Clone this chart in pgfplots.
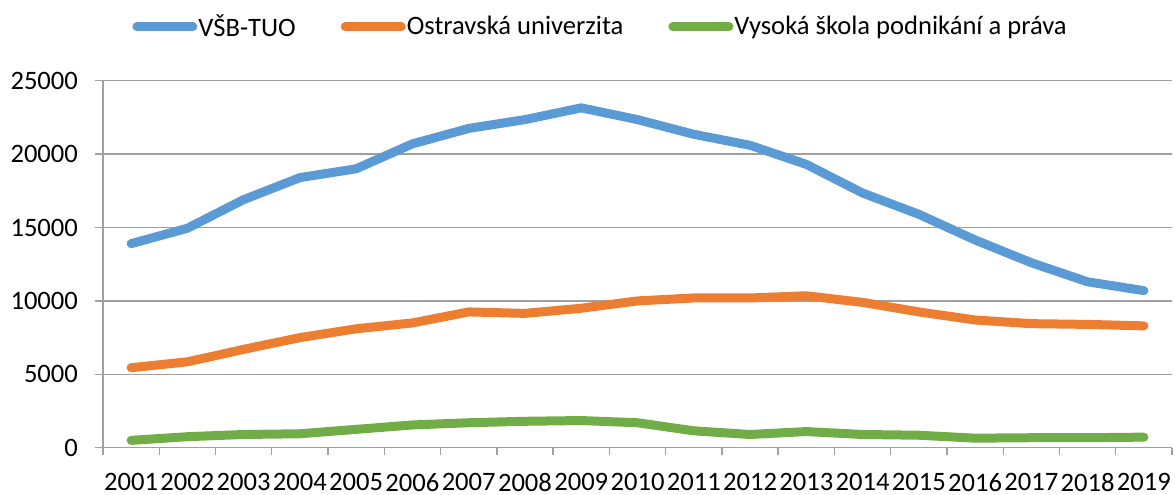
\documentclass[border=0pt]{standalone}
\usepackage{fontspec}
\setmainfont{Carlito}
\usepackage{pgfplots}
\pgfplotsset{compat=1.18}
\definecolor{cB}{HTML}{5B9BD5}
\definecolor{cO}{HTML}{ED7D31}
\definecolor{cG}{HTML}{70AD47}
\definecolor{gridc}{HTML}{A0A0A0}
\begin{document}
\begin{tikzpicture}
\begin{axis}[
  scale only axis, width=534.5pt, height=183.5pt,
  xmin=0.5, xmax=19.5, ymin=0, ymax=25000,
  ytick={0,5000,10000,15000,20000,25000},
  scaled y ticks=false,
  xtick={1,...,19},
  xticklabels={2001,2002,2003,2004,2005,2006,2007,2008,2009,2010,2011,2012,2013,2014,2015,2016,2017,2018,2019},
  minor xtick={0.5,1.5,...,19.5},
  major x tick style={draw=none},
  tick align=outside,
  major tick length=4pt, minor tick length=3.7pt,
  tick style={gridc, line width=0.7pt},
  axis x line*=bottom, axis y line*=left,
  axis line style={draw=gridc, line width=0.7pt, -},
  ymajorgrids, grid style={gridc, line width=0.7pt},
  font=\fontsize{13.3}{16}\selectfont,
  /pgf/number format/assume math mode=true,
  /pgf/number format/1000 sep={},
  yticklabel style={xshift=-5pt},
  xticklabel style={yshift=-5.3pt},
  legend style={at={(0.465,1)}, yshift=27pt, anchor=center, draw=none, fill=none,
    legend columns=3, font=\fontsize{13.3}{16}\selectfont,
    nodes={inner xsep=0.5pt},
    /tikz/every odd column/.append style={column sep=0pt},
    /tikz/every even column/.append style={column sep=22pt},
    inner sep=0pt},
  legend cell align=left,
  legend image code/.code={\draw[#1, line width=4.5pt, line cap=round] (2.25pt,0pt) -- (25.75pt,0pt); \path (0pt,0pt) -- (28pt,0pt);},
  every axis plot/.append style={line width=4.5pt, line cap=round, line join=round},
]
\addplot[cB] coordinates {(1,13900)(2,14950)(3,16900)(4,18400)(5,19000)(6,20700)(7,21750)(8,22350)(9,23150)(10,22350)(11,21350)(12,20600)(13,19300)(14,17350)(15,15900)(16,14150)(17,12600)(18,11300)(19,10700)};
\addlegendentry{VŠB-TUO}
\addplot[cO] coordinates {(1,5450)(2,5850)(3,6700)(4,7500)(5,8100)(6,8500)(7,9250)(8,9150)(9,9500)(10,10000)(11,10200)(12,10200)(13,10350)(14,9900)(15,9250)(16,8700)(17,8450)(18,8400)(19,8300)};
\addlegendentry{Ostravská univerzita}
\addplot[cG] coordinates {(1,500)(2,750)(3,900)(4,950)(5,1250)(6,1550)(7,1700)(8,1800)(9,1850)(10,1700)(11,1150)(12,900)(13,1100)(14,900)(15,850)(16,650)(17,680)(18,680)(19,720)};
\addlegendentry{Vysoká škola podnikání a práva}
\coordinate (SW) at (rel axis cs:0,0);
\coordinate (NE) at (rel axis cs:1,1);
\end{axis}
\pgfresetboundingbox
\path ([xshift=-51.5pt,yshift=-23.15pt]SW) rectangle ([xshift=1.5pt,yshift=40.35pt]NE);
\end{tikzpicture}
\end{document}
